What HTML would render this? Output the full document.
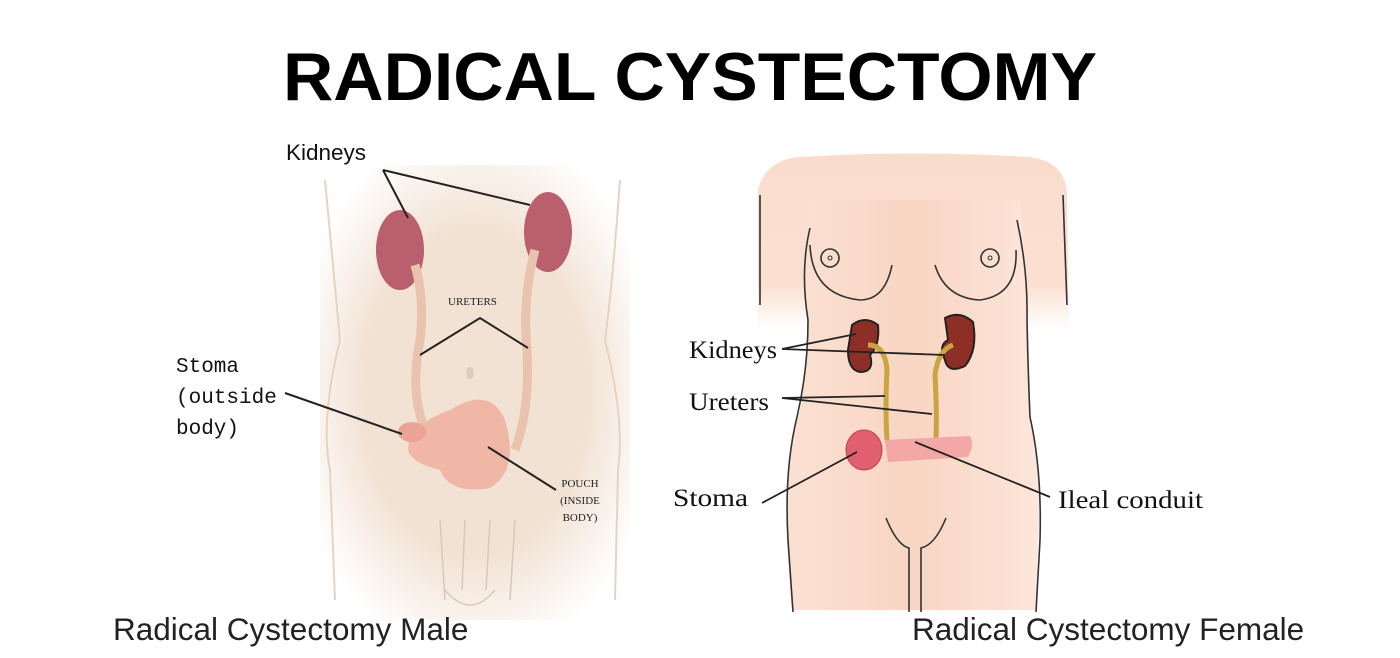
<!DOCTYPE html>
<html><head><meta charset="utf-8"><style>
html,body{margin:0;padding:0;background:#fff;}
body{width:1400px;height:658px;overflow:hidden;position:relative;}
svg{position:absolute;left:0;top:0;}
</style></head><body>
<svg width="1400" height="658" viewBox="0 0 1400 658" xmlns="http://www.w3.org/2000/svg">
<defs>
<radialGradient id="mg" cx="0.5" cy="0.5" r="0.6">
<stop offset="0.6" stop-color="#f2e2d4"/><stop offset="1" stop-color="#f2e2d4" stop-opacity="0"/>
</radialGradient>
<linearGradient id="fg" x1="0" x2="1">
<stop offset="0" stop-color="#fbe1d3"/><stop offset="0.5" stop-color="#f9d5c3"/><stop offset="1" stop-color="#fce6da"/>
</linearGradient>
<linearGradient id="armfade" x1="0" y1="0" x2="0" y2="1">
<stop offset="0" stop-color="#fadccc"/><stop offset="0.75" stop-color="#fbe0d2"/><stop offset="1" stop-color="#fce4d7" stop-opacity="0"/>
</linearGradient>
</defs>
<text x="690" y="100" text-anchor="middle" font-family="Liberation Sans, sans-serif" font-weight="bold" font-size="68" fill="#000" textLength="814" lengthAdjust="spacingAndGlyphs">RADICAL CYSTECTOMY</text>

<!-- male -->
<rect x="320" y="165" width="310" height="455" rx="40" fill="url(#mg)"/>
<path d="M325 180 Q335 290 340 340 Q320 420 330 470 L335 600 M620 180 Q612 290 605 340 Q625 420 618 470 L615 600" stroke="#e6d3c3" stroke-width="2" fill="none"/>
<path d="M440 520 L445 600 M465 520 L462 590 M490 520 L486 590 M515 520 L510 600 M445 590 Q470 620 495 590" stroke="#d8c8ba" stroke-width="1.5" fill="none"/>
<ellipse cx="400" cy="250" rx="24" ry="40" fill="#b95f6d"/>
<ellipse cx="548" cy="232" rx="24" ry="40" fill="#b95f6d"/>
<path d="M415 265 Q425 300 420 340 Q408 400 430 440" stroke="#e9c3ad" stroke-width="9" fill="none"/>
<path d="M535 250 Q522 300 527 350 Q530 410 515 450" stroke="#e9c3ad" stroke-width="9" fill="none"/>
<path d="M450 410 Q490 385 505 420 Q520 470 490 488 Q450 495 440 470 Q400 460 410 440 Q420 420 450 410 Z" fill="#f0b7a6"/>
<ellipse cx="412" cy="432" rx="14" ry="10" fill="#eaa394"/>
<ellipse cx="470" cy="373" rx="4" ry="6" fill="#ddcbbd"/>
<g stroke="#222" stroke-width="2" fill="none">
<path d="M383 170 L408 218 M383 170 L530 205"/>
<path d="M420 355 L480 318 L528 348"/>
<path d="M285 393 L402 434"/>
<path d="M488 447 L556 490"/>
</g>
<text x="286" y="160" font-family="Liberation Sans, sans-serif" font-size="22.5" fill="#111">Kidneys</text>
<text x="448" y="305" font-family="Liberation Serif, serif" font-size="11" fill="#222">URETERS</text>
<text x="580" y="487" text-anchor="middle" font-family="Liberation Serif, serif" font-size="11" fill="#222">POUCH</text>
<text x="580" y="504" text-anchor="middle" font-family="Liberation Serif, serif" font-size="11" fill="#222">(INSIDE</text>
<text x="580" y="521" text-anchor="middle" font-family="Liberation Serif, serif" font-size="11" fill="#222">BODY)</text>
<text x="176" y="372" font-family="Liberation Mono, monospace" font-size="21" fill="#111">Stoma</text>
<text x="176" y="403" font-family="Liberation Mono, monospace" font-size="21" fill="#111">(outside</text>
<text x="176" y="434" font-family="Liberation Mono, monospace" font-size="21" fill="#111">body)</text>
<text x="113" y="640" font-family="Liberation Sans, sans-serif" font-size="31.5" fill="#222">Radical Cystectomy Male</text>

<!-- female -->
<path d="M758 330 L758 190 Q765 160 800 157 Q915 150 1030 157 Q1066 162 1067 195 L1069 330 Z" fill="url(#armfade)"/>
<path d="M810 200 L1020 200 Q1028 280 1027 320 Q1028 370 1030 417 Q1042 470 1038 540 L1036 610 L792 610 Q785 540 787 483 Q790 440 800 410 Q808 360 808 320 Q800 270 810 200 Z" fill="url(#fg)"/>
<g stroke="#333" stroke-width="1.6" fill="none">
<path d="M760 195 L760 305 M1063 195 L1067 305"/>
<path d="M810 228 Q800 270 808 320 Q808 370 797 417 Q784 470 788 540 L793 612"/>
<path d="M1017 220 Q1028 270 1027 320 Q1028 370 1030 417 Q1042 470 1040 540 L1036 612"/>
<path d="M810 245 Q812 295 860 300 Q885 300 892 265"/>
<path d="M935 265 Q945 298 980 300 Q1018 295 1016 250"/>
<circle cx="830" cy="258" r="9"/><circle cx="990" cy="258" r="9"/>
<path d="M886 518 Q897 545 909 548 L909 612 M946 518 Q935 545 921 548 L921 612"/>
</g>
<circle cx="830" cy="258" r="2" fill="none" stroke="#333"/>
<circle cx="990" cy="258" r="2" fill="none" stroke="#333"/>
<path d="M852 325 Q865 315 878 325 Q880 345 870 355 Q875 372 860 372 Q848 370 848 350 Z" fill="#8d2f26" stroke="#222" stroke-width="2"/>
<path d="M945 318 Q960 310 973 322 Q978 350 965 366 Q948 374 945 360 Q938 345 948 340 Z" fill="#8d2f26" stroke="#222" stroke-width="2"/>
<path d="M868 345 Q885 345 887 370 Q885 410 887 440" stroke="#c9a53f" stroke-width="5" fill="none"/>
<path d="M953 345 Q938 350 935 375 Q937 410 936 440" stroke="#c9a53f" stroke-width="5" fill="none"/>
<path d="M885 440 L970 436 Q975 445 968 457 L888 462 Z" fill="#f4a7a7"/>
<ellipse cx="864" cy="450" rx="18" ry="20" fill="#e06070" stroke="#c04050"/>
<g stroke="#222" stroke-width="1.8" fill="none">
<path d="M782 349 L856 334 M782 349 L945 355"/>
<path d="M782 398 L885 396 M782 398 L932 414"/>
<path d="M762 503 L857 452"/>
<path d="M915 442 L1050 497"/>
</g>
<g font-family="Liberation Serif, serif" font-size="25" fill="#111">
<text x="689" y="358" textLength="88" lengthAdjust="spacingAndGlyphs">Kidneys</text>
<text x="689" y="410" textLength="80" lengthAdjust="spacingAndGlyphs">Ureters</text>
<text x="673" y="506" textLength="75" lengthAdjust="spacingAndGlyphs">Stoma</text>
<text x="1058" y="508" textLength="145" lengthAdjust="spacingAndGlyphs">Ileal conduit</text>
</g>
<text x="912" y="640" font-family="Liberation Sans, sans-serif" font-size="31.5" fill="#222">Radical Cystectomy Female</text>
</svg>
</body></html>
